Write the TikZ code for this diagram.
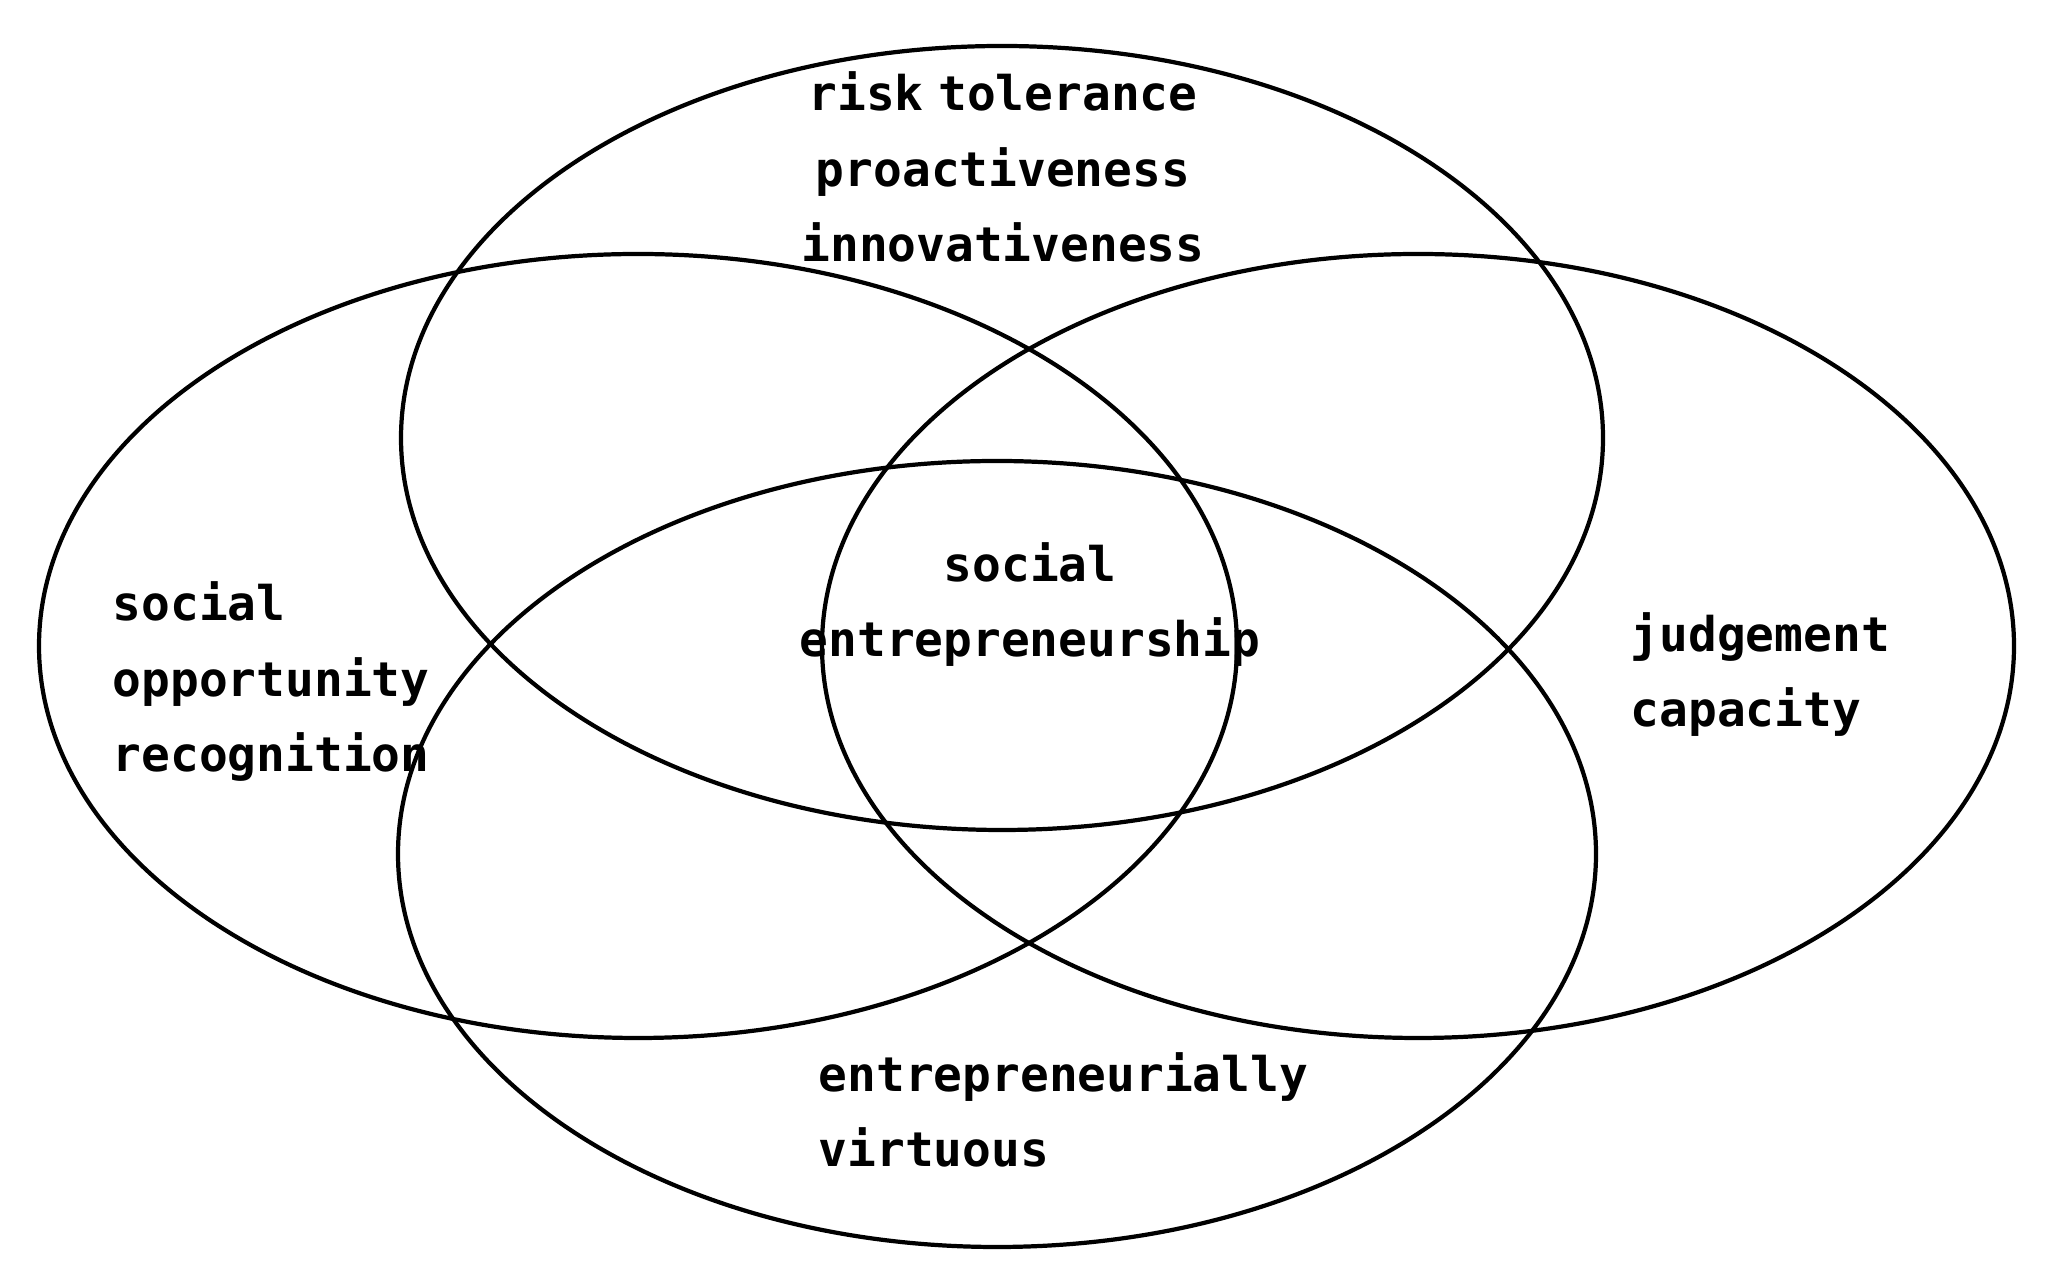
\documentclass[tikz,border=0pt]{standalone}
\usepackage{fontspec}
\setmainfont{DejaVu Sans Mono}
\begin{document}
\begin{tikzpicture}[x=0.01cm,y=-0.01cm,
  ring/.style={draw=black,line width=1.2pt},
  lbl/.style={inner sep=0pt,font=\fontsize{13.6}{21.6}\selectfont\bfseries}]
\useasboundingbox (0,0) rectangle (2063,1280);
\fill[white] (0,0) rectangle (2063,1280);
\draw[ring] (1002,438) ellipse [x radius=601, y radius=392];
\draw[ring] (638,646) ellipse [x radius=599, y radius=392];
\draw[ring] (1418,646) ellipse [x radius=596, y radius=392];
\draw[ring] (997,854) ellipse [x radius=599, y radius=393];
\node[lbl,align=center,anchor=base] (top) at (1003,262) {risk\kern-4pt\ tolerance\\proactiveness\\innovativeness};
\node[lbl,align=left,anchor=base west] (left) at (112,772) {social\\opportunity\\recognition};
\node[lbl,align=center,anchor=base] (mid) at (1030,657) {social\\entrepreneurship};
\node[lbl,align=left,anchor=base west] (right) at (1630,727) {judgement\\capacity};
\node[lbl,align=left,anchor=base west] (bot) at (818,1167) {entrepreneurially\\virtuous};
\end{tikzpicture}
\end{document}
